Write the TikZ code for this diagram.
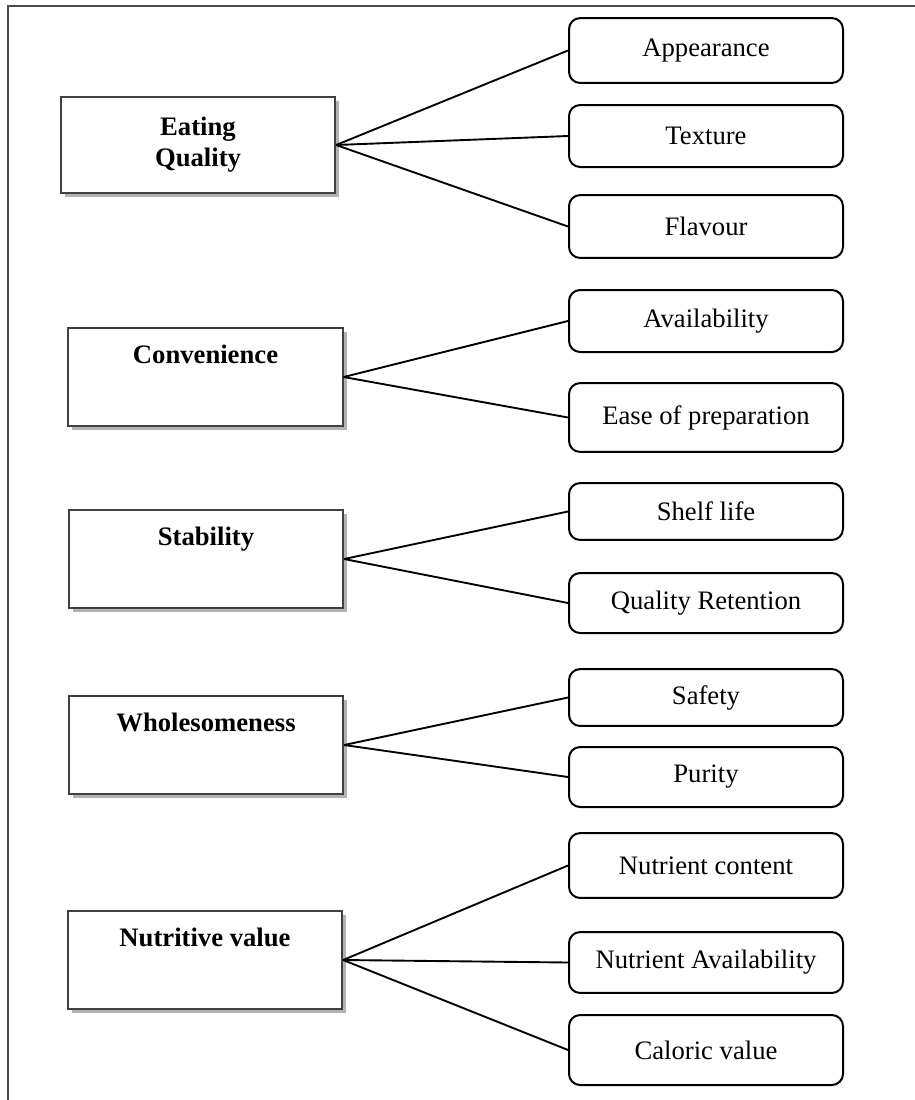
\documentclass[tikz,border=0pt]{standalone}
\usepackage{fontspec}
\setmainfont{Liberation Serif}
\usetikzlibrary{shadows}

\begin{document}
\begin{tikzpicture}[x=0.45pt, y=-0.45pt,
	group/.style={draw=black!75, line width=0.8pt, fill=white, minimum width=123.5pt,
		font=\fontsize{12}{14}\selectfont\bfseries, align=center,
		drop shadow={shadow xshift=1.8pt, shadow yshift=-1.8pt, fill=black, opacity=0.3}},
	topped/.style={text height=12.5pt, text depth=24.7pt},
	item/.style={draw, rounded corners=5pt, line width=0.9pt, minimum width=123.3pt,
		font=\fontsize{12}{14}\selectfont},
	link/.style={line width=0.85pt}]
	\useasboundingbox (0,0) rectangle (915,1100);
	% page frame, only its top and left edge fall inside the picture
	\draw[black!70, line width=1pt] (8,1100) -- (8,6) -- (915,6);

	% groups on the left
	\node[group, minimum height=43.2pt, text width=110pt] (eat) at (198,145) {Eating\\Quality};
	\node[group, topped] (conv) at (205.5,377) {Convenience};
	\node[group, topped] (stab) at (206,559) {Stability};
	\node[group, topped] (whole) at (206,745) {Wholesomeness};
	\node[group, topped] (nutr) at (205,960) {Nutritive value};

	% items on the right
	\node[item, minimum height=29.2pt] (app) at (706,50.5) {Appearance};
	\node[item, minimum height=27.9pt] (tex) at (706,136) {Texture};
	\node[item, minimum height=28.3pt] (fla) at (706,226.5) {Flavour};
	\node[item, minimum height=27.9pt] (ava) at (706,321) {Availability};
	\node[item, minimum height=31pt] (ease) at (706,417.5) {Ease of preparation};
	\node[item, minimum height=25.6pt] (shelf) at (706,511.5) {Shelf life};
	\node[item, minimum height=27pt] (qret) at (706,603) {Quality Retention};
	\node[item, minimum height=25.6pt] (safe) at (706,697.5) {Safety};
	\node[item, minimum height=27pt] (pur) at (706,777) {Purity};
	\node[item, minimum height=29.2pt] (ncont) at (706,865.5) {Nutrient content};
	\node[item, minimum height=27.4pt] (navail) at (706,962.5) {Nutrient Availability};
	\node[item, minimum height=31.5pt] (cal) at (706,1050) {Caloric value};

	% links
	\foreach \g/\i in {eat/app, eat/tex, eat/fla, conv/ava, conv/ease, stab/shelf, stab/qret,
		whole/safe, whole/pur, nutr/ncont, nutr/navail, nutr/cal}
		\draw[link] (\g.east) -- (\i.west);
\end{tikzpicture}
\end{document}
